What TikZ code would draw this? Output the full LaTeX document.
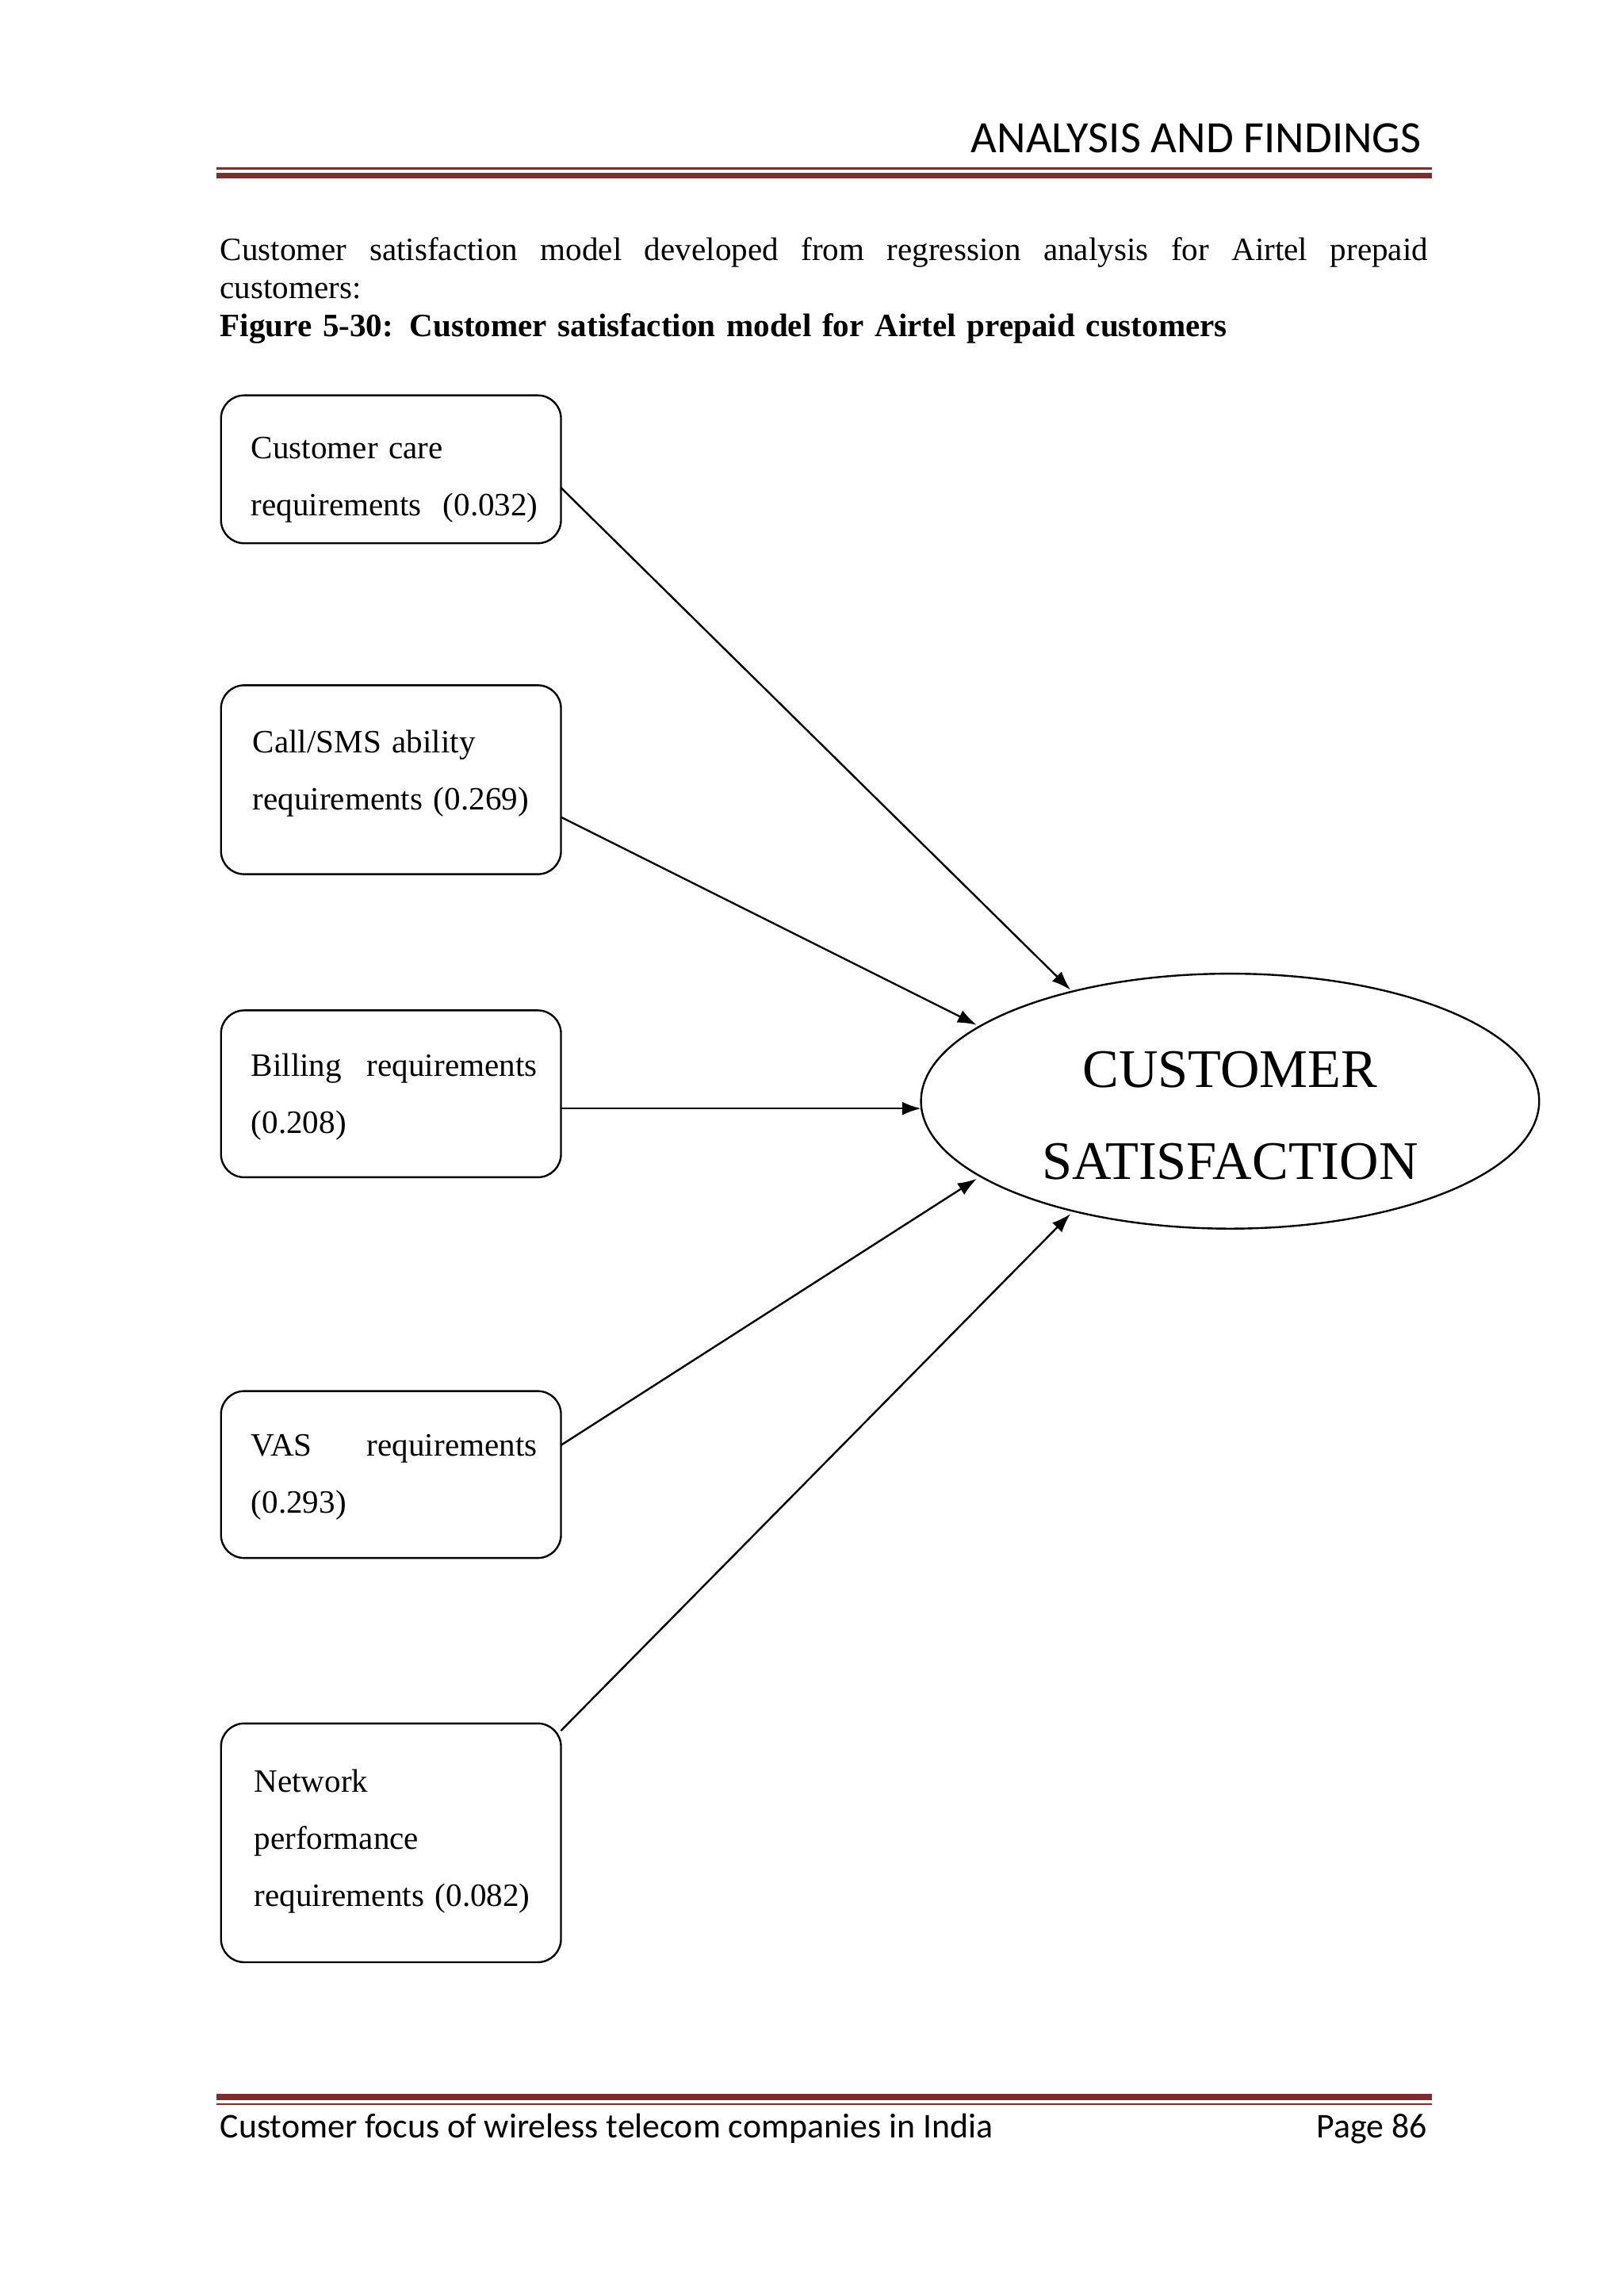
\documentclass[tikz,border=0pt]{standalone}
\usepackage{fontspec}
\setmainfont{Liberation Serif}
\newfontfamily\hdr{Carlito}
\usetikzlibrary{shapes.geometric,arrows.meta}
\definecolor{rulered}{HTML}{7A2E2E}
\begin{document}
\begin{tikzpicture}[x=0.01895cm,y=-0.01895cm,
  box/.style={draw,rounded corners=0.3cm,minimum width=4.4cm,inner sep=0pt,line width=0.7pt},
  btxt/.style={text width=4.1cm,align=left,font=\fontsize{12}{21}\selectfont},
  arr/.style={-{Latex[length=7pt,width=5pt]},line width=0.7pt}]
\useasboundingbox (0,0) rectangle (1108,1568);
% header
\node[anchor=base east,font=\hdr\fontsize{16.5}{18}\selectfont] (hd) at (977,104) {ANALYSIS AND FINDINGS};
\draw[rulered,line width=0.8pt] (148,115) -- (978,115);
\draw[rulered,line width=2.2pt] (148,120) -- (978,120);
% paragraph
\node[anchor=north west,inner sep=0pt,text width=15.63cm,align=left,font=\fontsize{12}{13.9}\selectfont] (par) at (150,162)
 {\makebox[15.63cm][s]{Customer\hfill satisfaction\hfill model\hfill developed\hfill from\hfill regression\hfill analysis\hfill for\hfill Airtel\hfill prepaid}\\
 customers:\\
 \textbf{Figure 5-30: Customer satisfaction model for Airtel prepaid customers}};
% boxes
\node[box,minimum height=1.914cm] (b1) at (267,320.5) {};
\node[btxt,anchor=north west] (t1) at (165,292) {Customer care\\requirements\ \ (0.032)};
\node[box,minimum height=2.445cm] (b2) at (267,532.5) {};
\node[btxt,anchor=north west] (t2) at (166,492) {Call/SMS ability\\requirements (0.269)};
\node[box,minimum height=2.16cm] (b3) at (267,747) {};
\node[btxt,anchor=north west] (t3) at (165,713) {\makebox[3.7cm][s]{Billing\hfill requirements}\\(0.208)};
\node[box,minimum height=2.16cm] (b4) at (267,1007) {};
\node[btxt,anchor=north west] (t4) at (165,973) {\makebox[3.7cm][s]{VAS\hfill requirements}\\(0.293)};
\node[box,minimum height=3.09cm] (b5) at (267,1258.5) {};
\node[btxt,anchor=north west] (t5) at (167,1202) {Network\\performance\\requirements (0.082)};
% ellipse
\node[draw,ellipse,minimum width=8.0cm,minimum height=3.3cm,line width=0.7pt,inner sep=0pt] (cs) at (840,752) {};
\node[align=center,font=\fontsize{20}{34}\selectfont] (cst) at (840,762) {CUSTOMER\\SATISFACTION};
% arrows
\coordinate (s1) at (383,333); \coordinate (e1) at (731,676);
\coordinate (s2) at (383,558); \coordinate (e2) at (667,700);
\coordinate (s3) at (383,757); \coordinate (e3) at (629,757);
\coordinate (s4) at (383,987); \coordinate (e4) at (667,805);
\coordinate (s5) at (383,1182); \coordinate (e5) at (731,829);
\draw[arr] (s1) -- (e1);
\draw[arr] (s2) -- (e2);
\draw[arr] (s3) -- (e3);
\draw[arr] (s4) -- (e4);
\draw[arr] (s5) -- (e5);
% footer
\draw[rulered,line width=2.2pt] (148,1432) -- (978,1432);
\draw[rulered,line width=0.8pt] (148,1437) -- (978,1437);
\node[anchor=base west,font=\hdr\fontsize{12.8}{14}\selectfont,inner xsep=0pt] (ft) at (150,1460) {Customer focus of wireless telecom companies in India};
\node[anchor=base east,font=\hdr\fontsize{12.8}{14}\selectfont,inner xsep=0pt] (pg) at (975,1460) {Page 86};
\end{tikzpicture}
\end{document}
